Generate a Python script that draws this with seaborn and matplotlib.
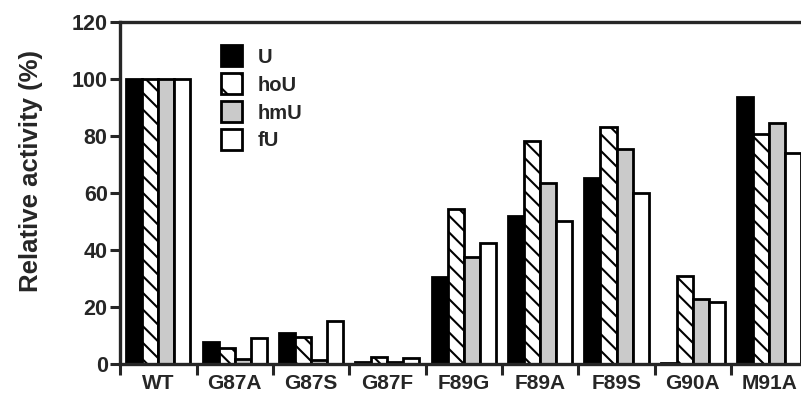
import numpy as np
import pandas as pd
import matplotlib
matplotlib.use("Agg")
import matplotlib.pyplot as plt
from matplotlib.patches import Patch
from matplotlib.ticker import FixedLocator
import seaborn as sns

mutants = ["WT", "G87A", "G87S", "G87F", "F89G", "F89A", "F89S", "G90A", "M91A"]
substrates = ["U", "hoU", "hmU", "fU"]

u_vals = [100, 7.8, 10.8, 0.8, 30.5, 51.9, 65.3, 0.5, 93.7]
hou_vals = [100, 5.5, 9.6, 2.3, 54.6, 78.2, 83.2, 30.9, 80.7]
hmu_vals = [100, 1.6, 1.4, 0.8, 37.7, 63.5, 75.4, 22.8, 84.6]
fu_vals = [100, 9.0, 15.2, 2.0, 42.6, 50.3, 60.0, 21.9, 74.0]

fills = ["black", "white", "#cacaca", "white"]
hatches = ["", "\\\\", "", ""]

rows = []
for sub, vals in zip(substrates, [u_vals, hou_vals, hmu_vals, fu_vals]):
    for m, v in zip(mutants, vals):
        rows.append({"mutant": m, "substrate": sub, "activity": v})
df = pd.DataFrame(rows)

sns.set_style("ticks")
plt.rcParams["font.family"] = ["Liberation Sans", "DejaVu Sans"]
plt.rcParams["font.weight"] = "bold"
plt.rcParams["hatch.linewidth"] = 1.5

fig = plt.figure(figsize=(8.01, 3.97), dpi=100)
ax = fig.add_axes([0.150, 0.083, 0.858, 0.861])

sns.barplot(data=df, x="mutant", y="activity", hue="substrate",
            order=mutants, hue_order=substrates, width=0.84,
            palette=dict(zip(substrates, fills)), edgecolor="black",
            linewidth=2, saturation=1, legend=False, ax=ax)

# seaborn colours each hue level; add the pattern per series
for cont, fc, h in zip(ax.containers, fills, hatches):
    for bar in cont:
        bar.set_facecolor(fc)
        bar.set_hatch(h)

ax.set_xlim(-0.5, len(mutants) - 0.5)
ax.set_ylim(0, 120)
ax.set_yticks([0, 20, 40, 60, 80, 100, 120])
ax.xaxis.set_minor_locator(FixedLocator(np.arange(-0.5, len(mutants), 1.0)))
ax.tick_params(axis="x", which="major", length=0, pad=7, labelsize=15)
ax.tick_params(axis="x", which="minor", length=8, width=2.2, direction="out")
ax.tick_params(axis="y", length=7, width=2.2, direction="out", labelsize=15.5, pad=2)
for lab in ax.get_xticklabels() + ax.get_yticklabels():
    lab.set_fontweight("bold")

ax.set_xlabel("")
ax.set_ylabel("Relative activity (%)", fontsize=18.5, fontweight="bold")
ax.yaxis.set_label_coords(-0.112, 0.565)

for side in ["left", "bottom", "top"]:
    ax.spines[side].set_linewidth(2.4)
ax.spines["right"].set_visible(False)

handles = [Patch(facecolor=fc, edgecolor="black", hatch=h, linewidth=2, label=s)
           for fc, h, s in zip(fills, ["", "\\", "", ""], substrates)]
ax.legend(handles=handles, loc="upper left", bbox_to_anchor=(0.12, 0.985),
          frameon=False, handlelength=1.05, handleheight=1.2, handletextpad=0.8,
          labelspacing=0.34, prop={"weight": "bold", "size": 14.5})

fig.savefig("out.png", dpi=100)
